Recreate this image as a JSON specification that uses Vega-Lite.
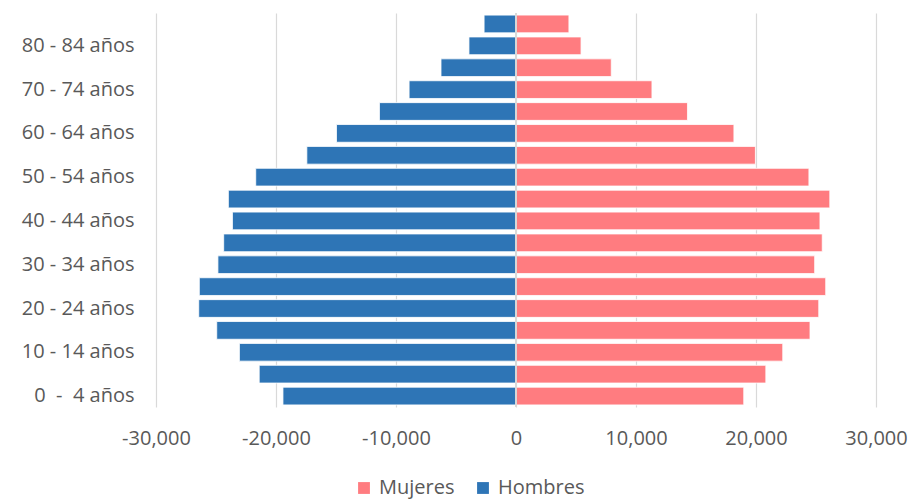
{
  "$schema": "https://vega.github.io/schema/vega-lite/v6.json",
  "autosize": {"type": "none"},
  "width": 720,
  "height": 394,
  "padding": {"left": 156, "top": 13, "right": 37, "bottom": 93},
  "background": "#ffffff",
  "config": {
    "view": {"stroke": null},
    "font": "Open Sans",
    "axis": {"labelFont": "Open Sans", "labelColor": "#595959", "labelFontSize": 20}
  },
  "data": {
    "values": [
      {"edad": "0  -  4 años", "sexo": "Hombres", "poblacion": -19420},
      {"edad": "0  -  4 años", "sexo": "Mujeres", "poblacion": 18980},
      {"edad": "5 - 9 años", "sexo": "Hombres", "poblacion": -21400},
      {"edad": "5 - 9 años", "sexo": "Mujeres", "poblacion": 20820},
      {"edad": "10 - 14 años", "sexo": "Hombres", "poblacion": -23050},
      {"edad": "10 - 14 años", "sexo": "Mujeres", "poblacion": 22230},
      {"edad": "15 - 19 años", "sexo": "Hombres", "poblacion": -24940},
      {"edad": "15 - 19 años", "sexo": "Mujeres", "poblacion": 24500},
      {"edad": "20 - 24 años", "sexo": "Hombres", "poblacion": -26440},
      {"edad": "20 - 24 años", "sexo": "Mujeres", "poblacion": 25230},
      {"edad": "25 - 29 años", "sexo": "Hombres", "poblacion": -26390},
      {"edad": "25 - 29 años", "sexo": "Mujeres", "poblacion": 25810},
      {"edad": "30 - 34 años", "sexo": "Hombres", "poblacion": -24840},
      {"edad": "30 - 34 años", "sexo": "Mujeres", "poblacion": 24890},
      {"edad": "35 - 39 años", "sexo": "Hombres", "poblacion": -24360},
      {"edad": "35 - 39 años", "sexo": "Mujeres", "poblacion": 25520},
      {"edad": "40 - 44 años", "sexo": "Hombres", "poblacion": -23630},
      {"edad": "40 - 44 años", "sexo": "Mujeres", "poblacion": 25330},
      {"edad": "45 - 49 años", "sexo": "Hombres", "poblacion": -23970},
      {"edad": "45 - 49 años", "sexo": "Mujeres", "poblacion": 26150},
      {"edad": "50 - 54 años", "sexo": "Hombres", "poblacion": -21690},
      {"edad": "50 - 54 años", "sexo": "Mujeres", "poblacion": 24410},
      {"edad": "55 - 59 años", "sexo": "Hombres", "poblacion": -17430},
      {"edad": "55 - 59 años", "sexo": "Mujeres", "poblacion": 19950},
      {"edad": "60 - 64 años", "sexo": "Hombres", "poblacion": -14960},
      {"edad": "60 - 64 años", "sexo": "Mujeres", "poblacion": 18160},
      {"edad": "65 - 69 años", "sexo": "Hombres", "poblacion": -11380},
      {"edad": "65 - 69 años", "sexo": "Mujeres", "poblacion": 14290},
      {"edad": "70 - 74 años", "sexo": "Hombres", "poblacion": -8910},
      {"edad": "70 - 74 años", "sexo": "Mujeres", "poblacion": 11330},
      {"edad": "75 - 79 años", "sexo": "Hombres", "poblacion": -6250},
      {"edad": "75 - 79 años", "sexo": "Mujeres", "poblacion": 7940},
      {"edad": "80 - 84 años", "sexo": "Hombres", "poblacion": -3920},
      {"edad": "80 - 84 años", "sexo": "Mujeres", "poblacion": 5420},
      {"edad": "85 y más años", "sexo": "Hombres", "poblacion": -2660},
      {"edad": "85 y más años", "sexo": "Mujeres", "poblacion": 4410}
    ]
  },
  "layer": [
    {
      "mark": {"type": "bar", "stroke": "#ffffff", "strokeWidth": 0.8},
      "encoding": {
        "y": {
          "field": "edad",
          "type": "nominal",
          "sort": ["85 y más años", "80 - 84 años", "75 - 79 años", "70 - 74 años", "65 - 69 años", "60 - 64 años", "55 - 59 años", "50 - 54 años", "45 - 49 años", "40 - 44 años", "35 - 39 años", "30 - 34 años", "25 - 29 años", "20 - 24 años", "15 - 19 años", "10 - 14 años", "5 - 9 años", "0  -  4 años"],
          "scale": {"paddingInner": 0.19, "paddingOuter": 0.095},
          "axis": {
            "title": null,
            "values": ["80 - 84 años", "70 - 74 años", "60 - 64 años", "50 - 54 años", "40 - 44 años", "30 - 34 años", "20 - 24 años", "10 - 14 años", "0  -  4 años"],
            "labelExpr": "replace(datum.label, regexp('  ', 'g'), '\u00a0\u00a0')",
            "domain": false,
            "ticks": false,
            "grid": false,
            "labelPadding": 22
          }
        },
        "x": {
          "field": "poblacion",
          "type": "quantitative",
          "scale": {"domain": [-30000, 30000], "nice": false},
          "axis": {
            "title": null,
            "values": [-30000, -20000, -10000, 0, 10000, 20000, 30000],
            "labelExpr": "replace(format(datum.value, ','), '\u2212', '-')",
            "labelFlush": false,
            "labelOverlap": false,
            "domain": false,
            "ticks": false,
            "grid": true,
            "gridColor": "#d9d9d9",
            "gridWidth": 1.2,
            "labelPadding": 21
          }
        },
        "color": {
          "field": "sexo",
          "type": "nominal",
          "scale": {"domain": ["Mujeres", "Hombres"], "range": ["#FF7C80", "#2E75B6"]},
          "legend": {
            "title": null,
            "orient": "none",
            "direction": "horizontal",
            "legendX": 198,
            "legendY": 465,
            "symbolType": "square",
            "symbolSize": 140,
            "symbolStrokeWidth": 0,
            "labelFont": "Open Sans",
            "labelFontSize": 20,
            "labelColor": "#595959",
            "columnPadding": 18,
            "labelOffset": 5
          }
        }
      }
    },
    {
      "mark": {"type": "rule", "color": "#d9d9d9", "strokeWidth": 1.5},
      "encoding": {"x": {"datum": 0}}
    }
  ]
}
